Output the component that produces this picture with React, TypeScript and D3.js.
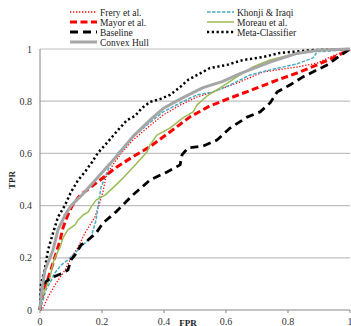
import * as d3 from "d3";

type Pt = [number, number];

const xTicks = [0, 0.2, 0.4, 0.6, 0.8, 1];
const yTicks = [0, 0.2, 0.4, 0.6, 0.8, 1];

const frery: Pt[] = [[0,0],[0.01,0.008],[0.026,0.05],[0.052,0.103],[0.081,0.153],[0.1,0.2],[0.123,0.241],[0.145,0.295],[0.177,0.356],[0.19,0.4],[0.203,0.452],[0.213,0.51],[0.235,0.556],[0.265,0.605],[0.3,0.651],[0.345,0.697],[0.397,0.747],[0.452,0.785],[0.506,0.816],[0.558,0.835],[0.645,0.874],[0.719,0.912],[0.829,0.931],[0.894,0.946],[0.935,0.969],[1,1]];
const khonji: Pt[] = [[0,0],[0.01,0.038],[0.019,0.077],[0.032,0.103],[0.048,0.142],[0.068,0.172],[0.09,0.192],[0.113,0.218],[0.145,0.257],[0.165,0.28],[0.181,0.345],[0.187,0.395],[0.197,0.471],[0.226,0.556],[0.252,0.602],[0.29,0.651],[0.345,0.709],[0.397,0.759],[0.452,0.793],[0.506,0.824],[0.558,0.835],[0.613,0.862],[0.677,0.9],[0.742,0.92],[0.829,0.943],[0.881,0.966],[0.894,0.99],[0.935,0.992],[1,1]];
const mayor: Pt[] = [[0,0],[0.003,0.038],[0.019,0.096],[0.035,0.153],[0.052,0.218],[0.065,0.268],[0.074,0.314],[0.087,0.356],[0.103,0.398],[0.129,0.44],[0.152,0.46],[0.194,0.498],[0.248,0.548],[0.29,0.58],[0.355,0.626],[0.419,0.682],[0.484,0.74],[0.548,0.782],[0.613,0.812],[0.7,0.851],[0.765,0.881],[0.829,0.908],[0.894,0.939],[0.945,0.966],[1,0.998]];
const moreau: Pt[] = [[0,0],[0.003,0.038],[0.019,0.084],[0.032,0.123],[0.042,0.18],[0.052,0.211],[0.065,0.241],[0.074,0.276],[0.09,0.307],[0.113,0.326],[0.123,0.345],[0.139,0.364],[0.155,0.375],[0.165,0.395],[0.181,0.421],[0.21,0.44],[0.252,0.487],[0.268,0.506],[0.313,0.563],[0.345,0.605],[0.355,0.632],[0.377,0.67],[0.419,0.697],[0.461,0.736],[0.494,0.759],[0.506,0.785],[0.539,0.82],[0.581,0.851],[0.635,0.893],[0.687,0.931],[0.742,0.958],[0.806,0.977],[0.881,0.992],[1,1]];
const baseline: Pt[] = [[0,0],[0.006,0.077],[0.013,0.103],[0.026,0.115],[0.042,0.126],[0.074,0.142],[0.09,0.153],[0.1,0.192],[0.113,0.211],[0.132,0.249],[0.155,0.268],[0.181,0.295],[0.203,0.333],[0.248,0.379],[0.3,0.441],[0.355,0.498],[0.41,0.529],[0.452,0.556],[0.458,0.594],[0.477,0.621],[0.526,0.628],[0.571,0.651],[0.613,0.697],[0.668,0.739],[0.71,0.759],[0.742,0.793],[0.765,0.835],[0.806,0.862],[0.848,0.893],[0.894,0.92],[0.926,0.939],[0.958,0.966],[1,1]];
const meta: Pt[] = [[0,0],[0.003,0.096],[0.016,0.161],[0.026,0.23],[0.042,0.295],[0.058,0.356],[0.08,0.4],[0.1,0.452],[0.123,0.498],[0.145,0.529],[0.168,0.567],[0.187,0.602],[0.216,0.64],[0.252,0.69],[0.281,0.728],[0.306,0.743],[0.329,0.774],[0.355,0.797],[0.387,0.808],[0.419,0.824],[0.452,0.854],[0.477,0.881],[0.506,0.9],[0.548,0.927],[0.603,0.939],[0.655,0.958],[0.719,0.969],[0.774,0.985],[0.881,0.996],[1,1]];
const hull: Pt[] = [[0,0],[0.006,0.077],[0.016,0.153],[0.042,0.23],[0.058,0.307],[0.081,0.364],[0.1,0.4],[0.139,0.445],[0.18,0.5],[0.248,0.59],[0.3,0.665],[0.355,0.728],[0.397,0.772],[0.452,0.808],[0.526,0.852],[0.59,0.876],[0.645,0.906],[0.742,0.95],[0.829,0.983],[0.903,0.996],[1,1]];

const series = [
  { name: "Frery et al.", data: frery, color: "#FF0000", width: 1.3, dash: "1.3,1.7", col: 0, row: 0 },
  { name: "Khonji & Iraqi", data: khonji, color: "#4BACC6", width: 1.5, dash: "3.5,1.5", col: 1, row: 0 },
  { name: "Mayor et al.", data: mayor, color: "#FF0000", width: 3, dash: "7,3.5", col: 0, row: 1 },
  { name: "Moreau et al.", data: moreau, color: "#9BBB59", width: 1.5, dash: "none", col: 1, row: 1 },
  { name: "Baseline", data: baseline, color: "#000000", width: 2.8, dash: "8,5", col: 0, row: 2 },
  { name: "Meta-Classifier", data: meta, color: "#000000", width: 2.5, dash: "2.2,2.6", col: 1, row: 2 },
  { name: "Convex Hull", data: hull, color: "#A6A6A6", width: 3, dash: "none", col: 0, row: 3 },
];

export default function App() {
  const W = 351, H = 326;
  const x = d3.scaleLinear().domain([0, 1]).range([40, 350]);
  const y = d3.scaleLinear().domain([0, 1]).range([310, 49]);
  const line = d3.line<Pt>().x(d => x(d[0])).y(d => y(d[1]));
  const font = "'Liberation Serif', 'Times New Roman', serif";

  return (
    <div style={{ position: "absolute", left: 0, top: 0 }}>
      <svg width={W} height={H} style={{ display: "block", background: "#fff" }} fontFamily={font}>
        {yTicks.filter(t => t > 0).map(t => (
          <line key={"g" + t} x1={x(0)} x2={x(1)} y1={y(t)} y2={y(t)} stroke="#BFBFBF" strokeWidth={1.2} />
        ))}
        <line x1={x(0)} x2={x(0)} y1={y(0)} y2={y(1)} stroke="#868686" strokeWidth={1} />
        <line x1={x(0)} x2={x(1)} y1={y(0)} y2={y(0)} stroke="#868686" strokeWidth={1} />
        {xTicks.map(t => (
          <line key={"xt" + t} x1={x(t)} x2={x(t)} y1={y(0)} y2={y(0) + 3} stroke="#868686" strokeWidth={1} />
        ))}
        {yTicks.map(t => (
          <text key={"yl" + t} x={32} y={y(t) + 3.5} textAnchor="end" fontSize={10} fill="#333">{t === 0 || t === 1 ? String(t) : t.toFixed(1)}</text>
        ))}
        {xTicks.map(t => (
          <text key={"xl" + t} x={x(t)} y={y(0) + 15} textAnchor="middle" fontSize={10} fill="#333">{t === 0 || t === 1 ? String(t) : t.toFixed(1)}</text>
        ))}
        <text x={188} y={326} textAnchor="middle" fontSize={9} fontWeight="bold" fill="#222">FPR</text>
        <text transform={`translate(15,180) rotate(-90)`} textAnchor="middle" fontSize={9} fontWeight="bold" fill="#222">TPR</text>

        {series.map(s => (
          <path key={s.name} d={line(s.data) ?? ""} fill="none" stroke={s.color} strokeWidth={s.width}
            strokeDasharray={s.dash} strokeLinejoin="round" />
        ))}

        {series.map(s => {
          const lx = s.col === 0 ? 70 : 207;
          const ly = 12 + s.row * 10;
          return (
            <g key={"lg" + s.name}>
              <line x1={lx} x2={lx + 27} y1={ly} y2={ly} stroke={s.color} strokeWidth={s.width} strokeDasharray={s.dash} />
              <text x={lx + 30} y={ly + 3.5} fontSize={9.5} fill="#222">{s.name}</text>
            </g>
          );
        })}
      </svg>
    </div>
  );
}
